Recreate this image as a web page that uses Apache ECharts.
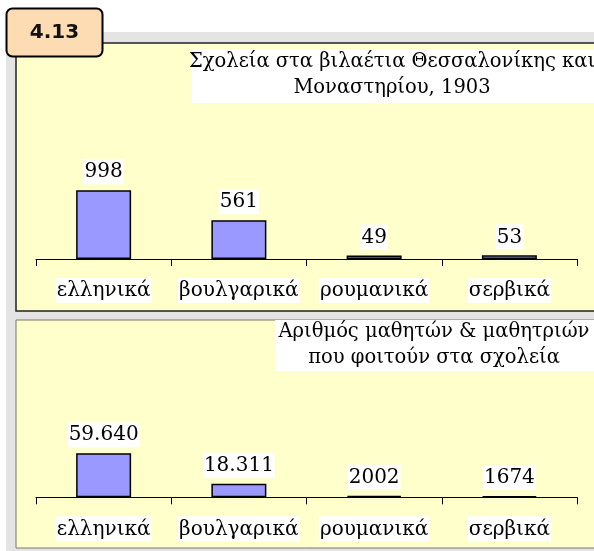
<!DOCTYPE html>
<html lang="el">
<head>
<meta charset="UTF-8">
<title>4.13</title>
<script src="https://cdn.jsdelivr.net/npm/echarts@6/dist/echarts.min.js"></script>
<style>
    html, body { margin: 0; padding: 0; background: #fff; }
    #chart { width: 594px; height: 551px; }
</style>
</head>
<body>
<div id="chart"></div>
<script>
    var categories = ['ελληνικά', 'βουλγαρικά', 'ρουμανικά', 'σερβικά'];
    var schools = [998, 561, 49, 53];
    var students = [59640, 18311, 2002, 1674];
    var title1 = ['Σχολεία στα βιλαέτια Θεσσαλονίκης και', 'Μοναστηρίου, 1903'];
    var title2 = ['Αριθμός μαθητών & μαθητριών', 'που φοιτούν στα σχολεία'];
    var badge = '4.13';

    var serif = '"DejaVu Serif", serif';

    // 59640 -> 59.640, small numbers stay as they are
    function fmt(v) {
        return v >= 10000 ? String(v).replace(/\B(?=(\d{3})+(?!\d))/g, '.') : String(v);
    }

    var labelStyle = {
        show: true,
        position: 'top',
        distance: 6,
        fontFamily: serif,
        fontSize: 20,
        color: '#000',
        backgroundColor: '#fff',
        padding: [3, 1, 2, 1],
        formatter: function (p) { return fmt(p.value); }
    };

    function xAxis(idx) {
        return {
            type: 'category',
            gridIndex: idx,
            data: categories,
            axisLine: { lineStyle: { color: '#000', width: 1 } },
            axisTick: { show: true, length: 7, lineStyle: { color: '#000' } },
            axisLabel: {
                interval: 0,
                margin: 19,
                fontFamily: serif,
                fontSize: 20,
                color: '#000',
                backgroundColor: '#fff',
                padding: [3, 1, 2, 1]
            }
        };
    }

    var chart = echarts.init(document.getElementById('chart'));
    chart.setOption({
        animation: false,
        graphic: [
            { type: 'rect', z: -20, shape: { x: 6, y: 32, width: 600, height: 530 }, style: { fill: '#e4e4e4' } },
            { type: 'rect', z: -19, shape: { x: 16, y: 43, width: 590, height: 268 },
              style: { fill: '#ffffcc', stroke: '#222', lineWidth: 1.5 } },
            { type: 'rect', z: -19, shape: { x: 16, y: 320, width: 590, height: 228 },
              style: { fill: '#ffffcc', stroke: '#777', lineWidth: 1 } },
            { type: 'rect', z: -18, shape: { x: 192, y: 49, width: 410, height: 54 }, style: { fill: '#fff' } },
            { type: 'text', z: -17, x: 392, y: 49,
              style: { text: title1.join('\n'), align: 'center', verticalAlign: 'top',
                       lineHeight: 26, fontFamily: serif, fontSize: 19.5, fill: '#000' } },
            { type: 'rect', z: -18, shape: { x: 275, y: 320, width: 330, height: 51 }, style: { fill: '#fff' } },
            { type: 'text', z: -17, x: 434, y: 319,
              style: { text: title2.join('\n'), align: 'center', verticalAlign: 'top',
                       lineHeight: 26, fontFamily: serif, fontSize: 19.5, fill: '#000' } },
            { type: 'rect', z: 10, shape: { x: 6.5, y: 8.5, width: 96, height: 48, r: 6 },
              style: { fill: '#fddcb4', stroke: '#000', lineWidth: 2 } },
            { type: 'text', z: 11, x: 54.5, y: 33,
              style: { text: badge, align: 'center', verticalAlign: 'middle',
                       fontFamily: '"DejaVu Sans", sans-serif', fontWeight: 'bold', fontSize: 20, fill: '#111' } }
        ],
        grid: [
            { left: 36, right: 17, top: 190, height: 69 },
            { left: 36, right: 17, top: 453, height: 44.3 }
        ],
        xAxis: [xAxis(0), xAxis(1)],
        yAxis: [
            { type: 'value', gridIndex: 0, min: 0, max: 1000, show: false },
            { type: 'value', gridIndex: 1, min: 0, max: 60000, show: false }
        ],
        series: [
            {
                type: 'bar', xAxisIndex: 0, yAxisIndex: 0, data: schools,
                barWidth: 55,
                itemStyle: { color: '#9999ff', borderColor: '#000', borderWidth: 1.5 },
                label: labelStyle
            },
            {
                type: 'bar', xAxisIndex: 1, yAxisIndex: 1, data: students,
                barWidth: 55,
                itemStyle: { color: '#9999ff', borderColor: '#000', borderWidth: 1.5 },
                label: labelStyle
            }
        ]
    });
</script>
</body>
</html>
